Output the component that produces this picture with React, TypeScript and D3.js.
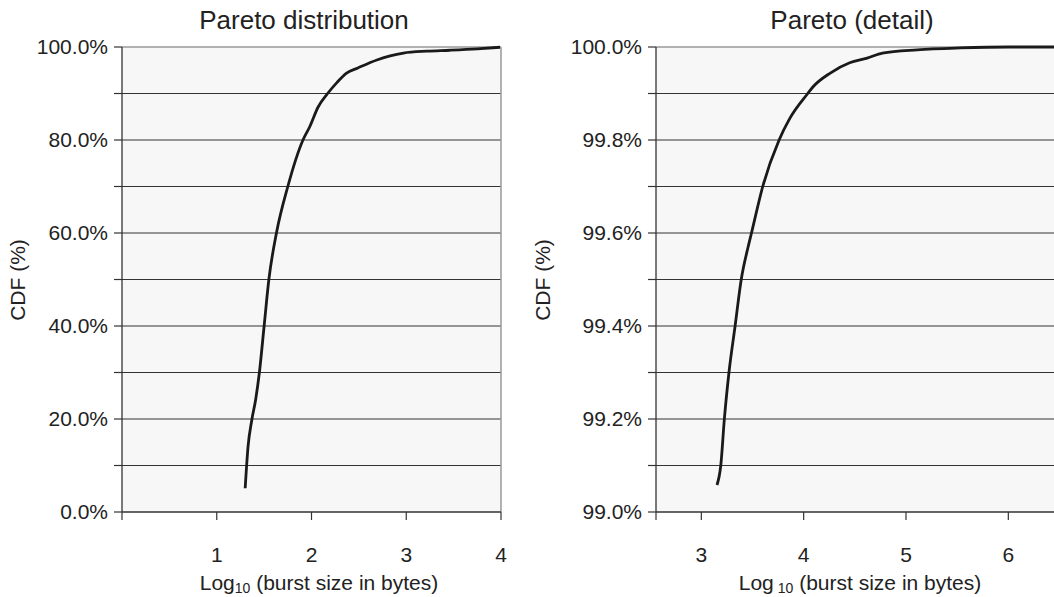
import * as d3 from "d3";

// left panel: full CDF
const fullX = [1.3, 1.33, 1.37, 1.41, 1.45, 1.5, 1.55, 1.63, 1.75, 1.91, 1.98, 2.07, 2.17, 2.27, 2.37, 2.49, 2.69, 2.83, 2.97, 3.22, 3.46, 3.75, 3.99];
const fullY = [5.1, 14.0, 19.8, 24.1, 30, 40, 50, 60, 70, 80, 82.8, 87.1, 90, 92.4, 94.4, 95.5, 97.2, 98.1, 98.7, 99.1, 99.3, 99.6, 99.95];

// right panel: tail detail
const detailX = [3.153, 3.19, 3.225, 3.27, 3.33, 3.39, 3.457, 3.49, 3.6, 3.76, 3.866, 4.04, 4.09, 4.26, 4.45, 4.62, 4.77, 5.11, 5.53, 6.0, 7.0];
const detailY = [99.058, 99.1, 99.2, 99.3, 99.4, 99.5, 99.57, 99.6, 99.7, 99.8, 99.847, 99.9, 99.914, 99.944, 99.966, 99.976, 99.987, 99.994, 99.998, 100, 100];

const fullXTicks = [0, 1, 2, 3, 4];
const fullXLabels = ["", "1", "2", "3", "4"];
const detailXTicks = [2.557, 3, 4, 5, 6];
const detailXLabels = ["", "3", "4", "5", "6"];

const font = "'Liberation Sans', Arial, Helvetica, sans-serif";

type PanelProps = {
  title: string;
  xs: number[];
  ys: number[];
  xDomain: [number, number];
  xRange: [number, number];
  yDomain: [number, number];
  yStep: number;
  yLabelEvery: number;
  xTicks: number[];
  xLabels: string[];
  titleX: number;
  yTitleX: number;
  xTitleX: number;
  spaceBeforeSub: boolean;
};

function Panel(p: PanelProps) {
  const top = 47, bottom = 512;
  const x = d3.scaleLinear().domain(p.xDomain).range(p.xRange);
  const y = d3.scaleLinear().domain(p.yDomain).range([bottom, top]);
  const [x0, x1] = p.xRange;

  const nSteps = Math.round((p.yDomain[1] - p.yDomain[0]) / p.yStep);
  const yTicks = d3.range(nSteps + 1).map((i) => p.yDomain[0] + i * p.yStep);

  const line = d3
    .line<number>()
    .x((_, i) => x(p.xs[i]))
    .y((d) => y(d))
    .curve(d3.curveMonotoneX);

  return (
    <g fontFamily={font} fill="#222">
      <text x={p.titleX} y={29} fontSize={26} textAnchor="middle">
        {p.title}
      </text>
      <rect x={x0} y={top} width={x1 - x0} height={bottom - top} fill="#f7f7f7" />
      {yTicks.map((t, i) => (
        <g key={i}>
          {i > 0 && i < nSteps && (
            <line x1={x0} x2={x1} y1={y(t)} y2={y(t)} stroke="#333" strokeWidth={1} />
          )}
          <line x1={x0 - 8} x2={x0} y1={y(t)} y2={y(t)} stroke="#333" strokeWidth={1.2} />
          {i % p.yLabelEvery === 0 && (
            <text x={x0 - 14} y={y(t)} dy="0.35em" fontSize={21} textAnchor="end">
              {t.toFixed(1) + "%"}
            </text>
          )}
        </g>
      ))}
      {/* plot frame */}
      <line x1={x0} x2={x1} y1={top} y2={top} stroke="#999" strokeWidth={1.5} />
      <line x1={x1} x2={x1} y1={top} y2={bottom} stroke="#999" strokeWidth={1.5} />
      <line x1={x0} x2={x0} y1={top} y2={bottom} stroke="#333" strokeWidth={1.3} />
      <line x1={x0} x2={x1} y1={bottom} y2={bottom} stroke="#333" strokeWidth={1.3} />
      {p.xTicks.map((t, i) => (
        <g key={i}>
          <line x1={x(t)} x2={x(t)} y1={bottom} y2={bottom + 8} stroke="#333" strokeWidth={1.2} />
          <text x={x(t)} y={562} fontSize={21} textAnchor="middle">
            {p.xLabels[i]}
          </text>
        </g>
      ))}
      <path d={line(p.ys) || ""} fill="none" stroke="#1a1a1a" strokeWidth={2.8} strokeLinejoin="round" />
      <text
        transform={`translate(${p.yTitleX},280) rotate(-90)`}
        dy="0.35em"
        fontSize={21}
        textAnchor="middle"
      >
        CDF (%)
      </text>
      <text x={p.xTitleX} y={590} fontSize={21} textAnchor="middle">
        Log
        <tspan fontSize={14} dy={3} dx={p.spaceBeforeSub ? 4 : 0}>10</tspan>
        <tspan dy={-3}> (burst size in bytes)</tspan>
      </text>
    </g>
  );
}

export default function App() {
  return (
    <svg
      width={1054}
      height={597}
      style={{ position: "absolute", left: 0, top: 0, background: "#fff" }}
    >
      <Panel
        title="Pareto distribution"
        xs={fullX}
        ys={fullY}
        xDomain={[0, 4]}
        xRange={[122, 501]}
        yDomain={[0, 100]}
        yStep={10}
        yLabelEvery={2}
        xTicks={fullXTicks}
        xLabels={fullXLabels}
        titleX={304}
        yTitleX={18}
        xTitleX={319}
        spaceBeforeSub={false}
      />
      <Panel
        title="Pareto (detail)"
        xs={detailX}
        ys={detailY}
        xDomain={[2.557, 7]}
        xRange={[656, 656 + 4.443 * 102.33]}
        yDomain={[99, 100]}
        yStep={0.1}
        yLabelEvery={2}
        xTicks={detailXTicks}
        xLabels={detailXLabels}
        titleX={852}
        yTitleX={543}
        xTitleX={860}
        spaceBeforeSub={true}
      />
    </svg>
  );
}
